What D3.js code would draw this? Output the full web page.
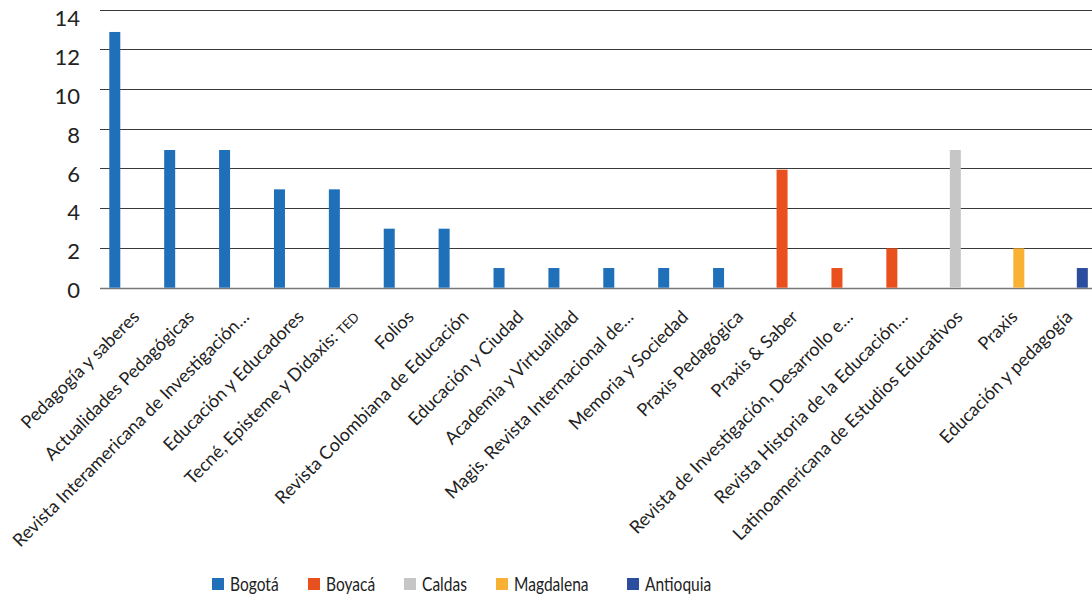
<!DOCTYPE html>
<html>
<head>
<meta charset="utf-8">
<script src="https://cdn.jsdelivr.net/npm/d3@7"></script>
<style>
  html, body { margin: 0; padding: 0; background: #fff; }
  svg { display: block; font-family: Lato, "Open Sans", sans-serif; }
</style>
</head>
<body>
<svg id="chart" width="1092" height="601"></svg>
<script>
const categories = [
  "Pedagogía y saberes",
  "Actualidades Pedagógicas",
  "Revista Interamericana de Investigación…",
  "Educación y Educadores",
  "Tecné, Episteme y Didaxis: TED",
  "Folios",
  "Revista Colombiana de Educación",
  "Educación y Ciudad",
  "Academia y Virtualidad",
  "Magis. Revista Internacional de…",
  "Memoria y Sociedad",
  "Praxis Pedagógica",
  "Praxis & Saber",
  "Revista de Investigación, Desarrollo e…",
  "Revista Historia de la Educación…",
  "Latinoamericana de Estudios Educativos",
  "Praxis",
  "Educación y pedagogía"
];
const seriesNames = ["Bogotá", "Boyacá", "Caldas", "Magdalena", "Antioquia"];
const seriesColors = ["#1f70b9", "#e9501e", "#c6c6c6", "#f9b133", "#2c4d9d"];
const bogota    = [13, 7, 7, 5, 5, 3, 3, 1, 1, 1, 1, 1, 0, 0, 0, 0, 0, 0];
const boyaca    = [0, 0, 0, 0, 0, 0, 0, 0, 0, 0, 0, 0, 6, 1, 2, 0, 0, 0];
const caldas    = [0, 0, 0, 0, 0, 0, 0, 0, 0, 0, 0, 0, 0, 0, 0, 7, 0, 0];
const magdalena = [0, 0, 0, 0, 0, 0, 0, 0, 0, 0, 0, 0, 0, 0, 0, 0, 2, 0];
const antioquia = [0, 0, 0, 0, 0, 0, 0, 0, 0, 0, 0, 0, 0, 0, 0, 0, 0, 1];
const yTicks = [0, 2, 4, 6, 8, 10, 12, 14];

const seriesValues = [bogota, boyaca, caldas, magdalena, antioquia];

const svg = d3.select("#chart");
const plotLeft = 100, plotRight = 1088, gridRight = 1092;

const x0 = d3.scaleBand().domain(categories).range([plotLeft, plotRight]).padding(0);
const x1 = d3.scalePoint().domain(seriesNames).range([9.3, 43.7]);
const barW = 11;
const yGrid = d3.scaleLinear().domain([0, 14]).range([287.5, 9.5]);
const yBar = d3.scaleLinear().domain([0, 14]).range([287.7, 12.3]);
const yLabel = d3.scaleLinear().domain([0, 14]).range([290, 18.5]);

// gridlines
svg.append("g").selectAll("line").data(yTicks).join("line")
  .attr("x1", plotLeft).attr("x2", gridRight)
  .attr("y1", d => Math.round(yGrid(d)) + 0.5).attr("y2", d => Math.round(yGrid(d)) + 0.5)
  .attr("stroke", d => d === 0 ? "#777" : "#3a3a3a")
  .attr("stroke-width", d => d === 0 ? 1.6 : 1);

// y labels
svg.append("g").selectAll("text").data(yTicks).join("text")
  .attr("x", 80).attr("y", d => yLabel(d))
  .attr("dy", "0.36em")
  .attr("text-anchor", "end")
  .attr("font-size", 22)
  .attr("fill", "#222")
  .text(d => d);

// bars
const barData = [];
seriesNames.forEach((s, si) => {
  seriesValues[si].forEach((v, ci) => {
    if (v > 0) barData.push({ cat: categories[ci], series: s, value: v, color: seriesColors[si] });
  });
});
svg.append("g").selectAll("rect").data(barData).join("rect")
  .attr("x", d => x0(d.cat) + x1(d.series))
  .attr("width", barW)
  .attr("y", d => yBar(d.value))
  .attr("height", d => yBar(0) - yBar(d.value))
  .attr("fill", d => d.color);

// x labels
const xl = svg.append("g").selectAll("text").data(categories).join("text")
  .attr("text-anchor", "end")
  .attr("font-size", 18)
  .attr("fill", "#222")
  .attr("transform", d => `translate(${x0(d) + x0.bandwidth() / 2 + 13},${318}) rotate(-45)`);
xl.each(function(d) {
  const t = d3.select(this);
  if (d.endsWith(": TED")) {
    t.append("tspan").text(d.slice(0, -3));
    t.append("tspan").attr("font-size", 13).text("TED");
  } else {
    t.text(d);
  }
});

// legend
const legendX = [212, 308, 404, 496, 627];
const lg = svg.append("g").selectAll("g").data(seriesNames).join("g")
  .attr("transform", (d, i) => `translate(${legendX[i]},578)`);
lg.append("rect").attr("width", 12).attr("height", 12)
  .attr("fill", (d, i) => seriesColors[i]);
lg.append("text")
  .attr("transform", "translate(18,6) scale(0.84,1)")
  .attr("dy", "0.36em")
  .attr("font-size", 18.5).attr("fill", "#222").text(d => d);
</script>
</body>
</html>
